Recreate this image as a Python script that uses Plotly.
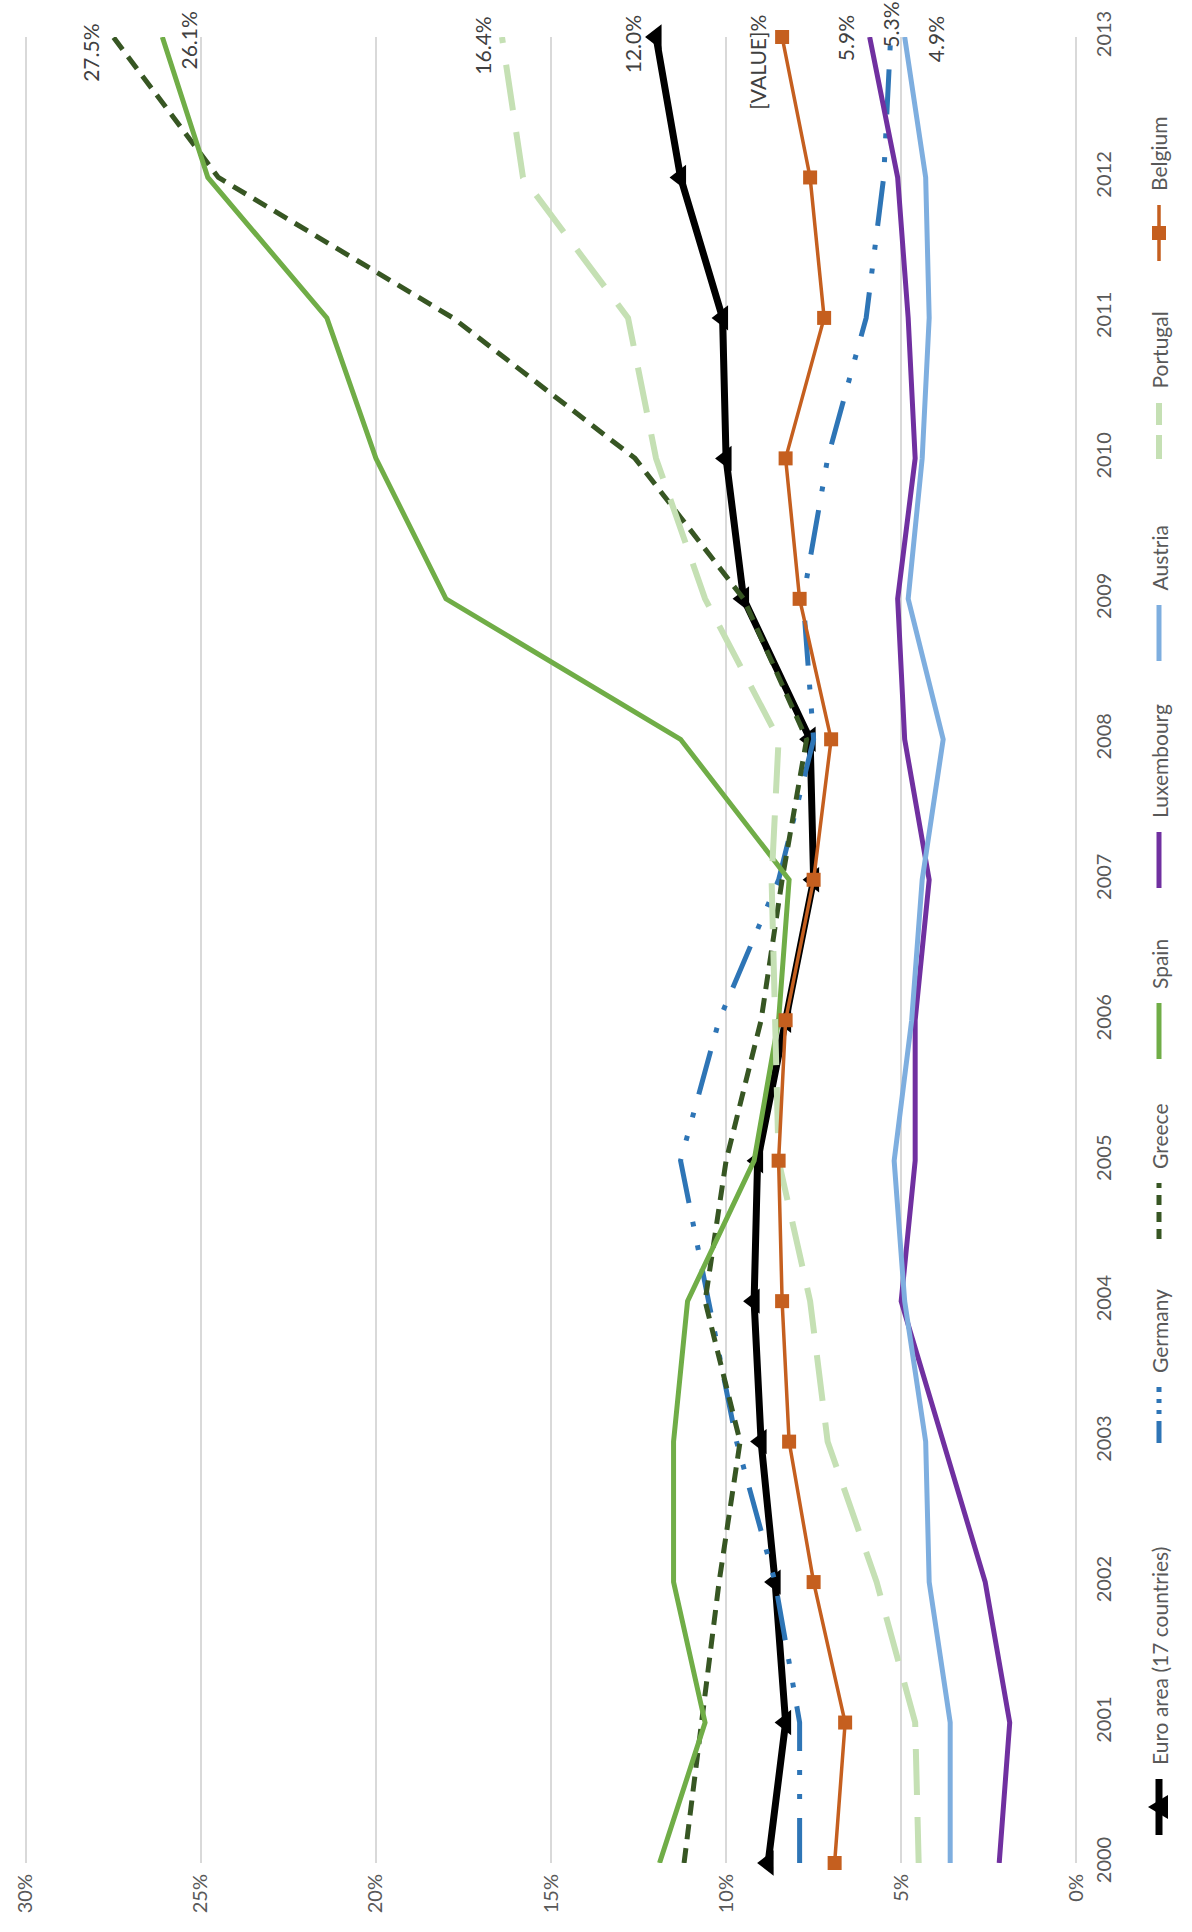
import plotly.graph_objects as go

years = list(range(2000, 2014))
euro = [8.8, 8.3, 8.6, 9.0, 9.2, 9.1, 8.3, 7.5, 7.6, 9.5, 10.0, 10.1, 11.3, 12.0]
germany = [7.9, 7.9, 8.6, 9.7, 10.5, 11.3, 10.2, 8.5, 7.5, 7.8, 7.1, 6.0, 5.5, 5.3]
greece = [11.2, 10.7, 10.2, 9.6, 10.6, 10.0, 9.0, 8.4, 7.7, 9.5, 12.6, 17.8, 24.5, 27.5]
spain = [11.9, 10.6, 11.5, 11.5, 11.1, 9.2, 8.5, 8.2, 11.3, 18.0, 20.0, 21.4, 24.8, 26.1]
luxembourg = [2.2, 1.9, 2.6, 3.8, 5.0, 4.6, 4.6, 4.2, 4.9, 5.1, 4.6, 4.8, 5.1, 5.9]
austria = [3.6, 3.6, 4.2, 4.3, 4.9, 5.2, 4.7, 4.4, 3.8, 4.8, 4.4, 4.2, 4.3, 4.9]
portugal = [4.5, 4.6, 5.7, 7.1, 7.6, 8.5, 8.6, 8.7, 8.5, 10.6, 12.0, 12.8, 15.8, 16.4]
belgium = [6.9, 6.6, 7.5, 8.2, 8.4, 8.5, 8.3, 7.5, 7.0, 7.9, 8.3, 7.2, 7.6, 8.4]

value_ticks = [0, 5, 10, 15, 20, 25, 30]
value_tick_text = ["0%", "5%", "10%", "15%", "20%", "25%", "30%"]

end_labels = ["12.0%", "5.3%", "27.5%", "26.1%", "5.9%", "4.9%", "16.4%", "[VALUE]%"]

series = [
    dict(name="Euro area (17 countries)", y=euro, color="#000000", width=7, dash="solid",
         marker="triangle-left", msize=22, ldash="solid"),
    dict(name="Germany", y=germany, color="#2E75B6", width=5,
         dash="45px,19px,5px,19px,5px,19px", marker=None, ldash="22px,7px,4px,7px,4px,7px"),
    dict(name="Greece", y=greece, color="#375623", width=5, dash="15px,9px", marker=None,
         ldash="10px,7px"),
    dict(name="Spain", y=spain, color="#70AD47", width=5, dash="solid", marker=None,
         ldash="solid"),
    dict(name="Luxembourg", y=luxembourg, color="#7030A0", width=5, dash="solid", marker=None,
         ldash="solid"),
    dict(name="Austria", y=austria, color="#7EAEDF", width=5, dash="solid", marker=None,
         ldash="solid"),
    dict(name="Portugal", y=portugal, color="#C5E0B4", width=6, dash="46px,22px", marker=None,
         ldash="24px,10px"),
    dict(name="Belgium", y=belgium, color="#C55F1F", width=3.5, dash="solid",
         marker="square", msize=14, ldash="solid"),
]

W, H = 1192, 1932
ML, MR, MT, MB = 24, 114, 37, 69
PW = W - ML - MR
PH = H - MT - MB


def px_x(p):
    return (p - ML) / PW


def px_y(p):
    return (H - MB - p) / PH


FONT = "Lato, Liberation Sans, sans-serif"

fig = go.Figure()
for s in series:
    kw = dict(
        x=s["y"], y=years, name=s["name"], showlegend=False, cliponaxis=False,
        hoverinfo="skip",
        line=dict(color=s["color"], width=s["width"], dash=s["dash"]),
    )
    if s["marker"]:
        kw["mode"] = "lines+markers"
        kw["marker"] = dict(symbol=s["marker"], size=s["msize"], color=s["color"],
                            line=dict(width=0))
    else:
        kw["mode"] = "lines"
    fig.add_trace(go.Scatter(**kw))

# end-of-series data labels (x offset in %, top pixel)
label_pos = {
    "Euro area (17 countries)": (0.68, 13),
    "Germany": (0.0, 0),
    "Greece": (0.67, 22),
    "Spain": (-0.72, 10),
    "Luxembourg": (0.7, 13),
    "Austria": (-0.9, 14),
    "Portugal": (0.58, 15),
    "Belgium": (0.71, 13),
}
annotations = []
for s, lab in zip(series, end_labels):
    dx, top = label_pos[s["name"]]
    annotations.append(dict(
        x=s["y"][-1] + dx, xref="x", y=px_y(top), yref="paper",
        text=lab, textangle=-90, showarrow=False, xanchor="center", yanchor="top",
        font=dict(family=FONT, size=21, color="#404040"),
    ))

# legend drawn rotated along the right edge
legend_centers = [1807, 1415, 1211, 1031, 860, 633, 431, 233]
LX = 1159
shapes = []
for s, yc in zip(series, legend_centers):
    shapes.append(dict(
        type="line", xref="paper", yref="paper",
        x0=px_x(LX), x1=px_x(LX), y0=px_y(yc + 28), y1=px_y(yc - 28),
        line=dict(color=s["color"], width=s["width"], dash=s["ldash"]),
    ))
    if s["marker"] == "triangle-left":
        path = "M {} {} L {} {} L {} {} Z".format(
            px_x(LX - 11), px_y(yc), px_x(LX + 9), px_y(yc - 12), px_x(LX + 9), px_y(yc + 12))
        shapes.append(dict(type="path", xref="paper", yref="paper", path=path,
                           fillcolor=s["color"], line=dict(width=0)))
    elif s["marker"] == "square":
        shapes.append(dict(type="rect", xref="paper", yref="paper",
                           x0=px_x(LX - 7), x1=px_x(LX + 7), y0=px_y(yc + 7), y1=px_y(yc - 7),
                           fillcolor=s["color"], line=dict(width=0)))
    annotations.append(dict(
        x=px_x(LX), xref="paper", y=px_y(yc - 40), yref="paper",
        text=s["name"], textangle=-90, showarrow=False, xanchor="center", yanchor="bottom",
        font=dict(family=FONT, size=21, color="#595959"),
    ))

fig.update_layout(
    width=W, height=H,
    margin=dict(l=ML, r=MR, t=MT, b=MB, pad=0),
    paper_bgcolor="white", plot_bgcolor="white",
    showlegend=False,
    font=dict(family=FONT, size=21, color="#595959"),
    xaxis=dict(
        range=[30.05, -0.05], tickmode="array", tickvals=value_ticks, ticktext=value_tick_text,
        tickangle=-90, showgrid=True, gridcolor="#D9D9D9", gridwidth=2,
        zeroline=False, showline=False, ticks="", ticklabelstandoff=6,
        tickfont=dict(family=FONT, size=20, color="#595959"),
    ),
    yaxis=dict(
        range=[2000, 2013], side="right", tickmode="array", tickvals=years,
        ticktext=[str(y) for y in years], tickangle=-90, showgrid=False,
        zeroline=False, showline=False, ticks="", ticklabelstandoff=12,
        tickfont=dict(family=FONT, size=20, color="#595959"),
    ),
    annotations=annotations,
    shapes=shapes,
)

fig.write_html(
    "out.html",
    config={"displayModeBar": False},
    post_script="document.body.style.margin='0';document.body.style.padding='0';"
                "document.body.style.overflow='hidden';",
)
